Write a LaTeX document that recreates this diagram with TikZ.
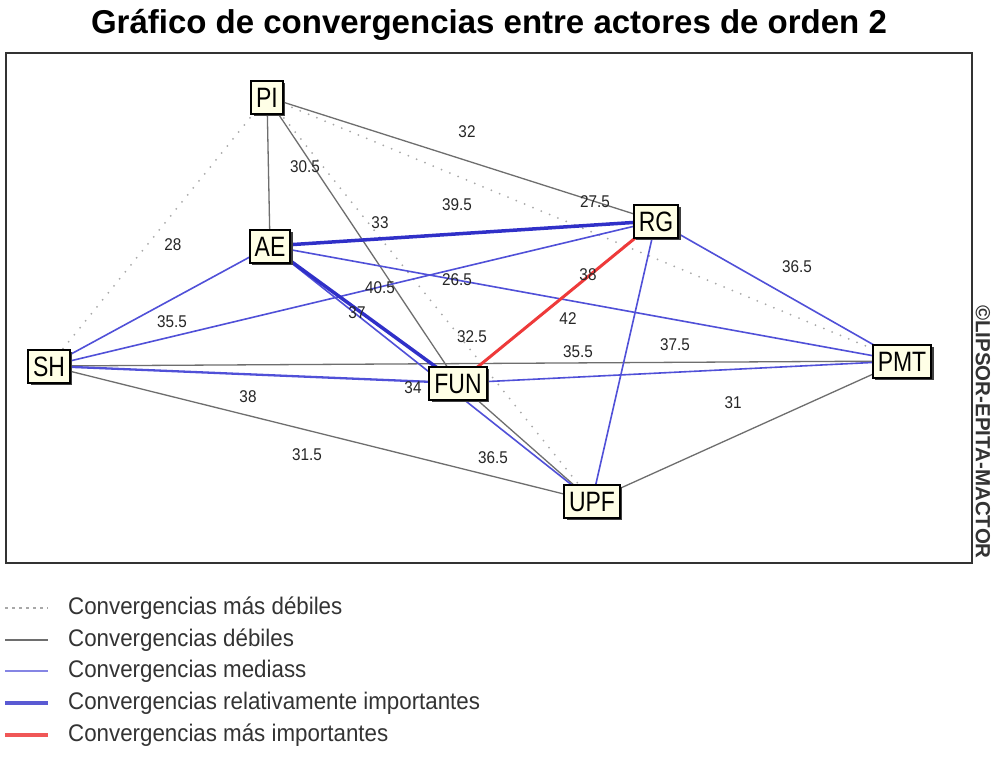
\documentclass[tikz,border=0pt]{standalone}
\usepackage{fontspec}
\setmainfont{Liberation Sans}
\newfontfamily\nodefont[FakeStretch=0.82]{Liberation Sans}
\newfontfamily\labfont[FakeStretch=0.9]{Liberation Sans}
\newfontfamily\legfont[FakeStretch=0.93]{Liberation Sans}
\usetikzlibrary{shadows,backgrounds}
\definecolor{cream}{HTML}{FFFFE6}
\definecolor{weakgray}{HTML}{6E6E6E}
\definecolor{dotgray}{HTML}{A8A8A8}
\definecolor{medblue}{HTML}{5050D8}
\definecolor{strongblue}{HTML}{3030C8}
\definecolor{topred}{HTML}{EE3A3A}
\definecolor{framegray}{HTML}{333333}
\tikzset{
  actor/.style={draw=black, line width=2pt, fill=cream,
    font=\nodefont\fontsize{28}{28}\selectfont, text height=20pt, text depth=0pt,
    inner xsep=5pt, inner ysep=6.5pt,
    drop shadow={shadow xshift=2.5pt, shadow yshift=-2.5pt, fill=black!75, opacity=1}},
  masdebil/.style={dotgray, line width=2pt, dash pattern=on 0pt off 9pt, line cap=round},
  debil/.style={weakgray, line width=1.3pt},
  media/.style={medblue, line width=1.6pt},
  relimp/.style={strongblue, line width=3.5pt},
  masimp/.style={topred, line width=3pt},
  lab/.style={font=\labfont\fontsize{17}{17}\selectfont, text=black!85, inner sep=0pt},
  legtext/.style={font=\legfont\fontsize{24}{24}\selectfont, text=black!80, anchor=west, inner sep=0pt},
}
\begin{document}
\begin{tikzpicture}[x=1pt,y=-1pt]
\useasboundingbox (0,0) rectangle (995,776);

% title
\node[font=\bfseries\fontsize{33}{33}\selectfont, inner sep=0pt] (title) at (489,25) {Gráfico de convergencias entre actores de orden 2};

% actors
\node[actor] (PI)  at (267,97)  {PI};
\node[actor] (AE)  at (270,246) {AE};
\node[actor] (RG)  at (656,221) {RG};
\node[actor] (SH)  at (49,366)  {SH};
\node[actor] (FUN) at (458,383) {FUN};
\node[actor] (PMT) at (902,361) {PMT};
\node[actor] (UPF) at (592,501) {UPF};

\begin{pgfonlayer}{background}
\fill[white] (0,0) rectangle (995,776);
\draw[framegray, line width=2pt] (6,53) rectangle (972,563);
% weakest
\draw[masdebil] (PI.center) -- (SH.center);
\draw[masdebil] (PI.center) -- (PMT.center);
\draw[masdebil] (PI.center) -- (UPF.center);
% weak
\draw[debil] (PI.center) -- (AE.center);
\draw[debil] (PI.center) -- (RG.center);
\draw[debil] (PI.center) -- (FUN.center);
\draw[debil] (SH.center) -- (PMT.center);
\draw[debil] (SH.center) -- (UPF.center);
\draw[debil] (UPF.center) -- (PMT.center);
\draw[debil] (FUN.center) -- (UPF.center);
% medium
\draw[media] (SH.center) -- (AE.center);
\draw[media] (SH.center) -- (RG.center);
\draw[media] (AE.center) -- (PMT.center);
\draw[media] (RG.center) -- (PMT.center);
\draw[media] (RG.center) -- (UPF.center);
\draw[media] (FUN.center) -- (PMT.center);
\draw[media] (AE.center) -- (UPF.center);
\draw[media, line width=2.3pt] (SH.center) -- (FUN.center);
% relatively important
\draw[relimp] (AE.center) -- (RG.center);
\draw[relimp] (AE.center) -- (FUN.center);
% most important
\draw[masimp] (RG.center) -- (FUN.center);
\end{pgfonlayer}

% edge labels
\node[lab] (l1) at (173,245) {28};
\node[lab] (l2) at (467,132) {32};
\node[lab] (l3) at (305,167) {30.5};
\node[lab] (l4) at (457,205) {39.5};
\node[lab] (l5) at (380,223) {33};
\node[lab] (l6) at (380,288) {40.5};
\node[lab] (l7) at (457,280) {26.5};
\node[lab] (l8) at (172,322) {35.5};
\node[lab] (l9) at (357,313) {37};
\node[lab] (l10) at (595,202) {27.5};
\node[lab] (l11) at (588,275) {38};
\node[lab] (l12) at (797,267) {36.5};
\node[lab] (l13) at (568,319) {42};
\node[lab] (l14) at (472,337) {32.5};
\node[lab] (l15) at (578,352) {35.5};
\node[lab] (l16) at (675,345) {37.5};
\node[lab] (l17) at (733,403) {31};
\node[lab] (l18) at (248,397) {38};
\node[lab] (l19) at (413,388) {34};
\node[lab] (l20) at (307,455) {31.5};
\node[lab] (l21) at (493,458) {36.5};

% copyright
\node[rotate=-90, font=\bfseries\fontsize{20.5}{20.5}\selectfont, text=black!80, inner sep=0pt] (copy) at (983,432) {©LIPSOR-EPITA-MACTOR};

% legend
\coordinate (a1) at (5,608);   \coordinate (b1) at (48,608);
\coordinate (a2) at (5,640);   \coordinate (b2) at (48,640);
\coordinate (a3) at (5,671);   \coordinate (b3) at (48,671);
\coordinate (a4) at (5,703);   \coordinate (b4) at (48,703);
\coordinate (a5) at (5,735);   \coordinate (b5) at (48,735);
\draw[dotgray, line width=1.2pt, dash pattern=on 3pt off 4pt] (a1) -- (b1);
\draw[weakgray, line width=1.6pt] (a2) -- (b2);
\draw[medblue!70, line width=1.6pt] (a3) -- (b3);
\draw[strongblue!80, line width=4pt] (a4) -- (b4);
\draw[topred!85, line width=4pt] (a5) -- (b5);
\node[legtext] (t1) at (68,608) {Convergencias más débiles};
\node[legtext] (t2) at (68,640) {Convergencias débiles};
\node[legtext] (t3) at (68,671) {Convergencias mediass};
\node[legtext] (t4) at (68,703) {Convergencias relativamente importantes};
\node[legtext] (t5) at (68,735) {Convergencias más importantes};
\end{tikzpicture}
\end{document}
